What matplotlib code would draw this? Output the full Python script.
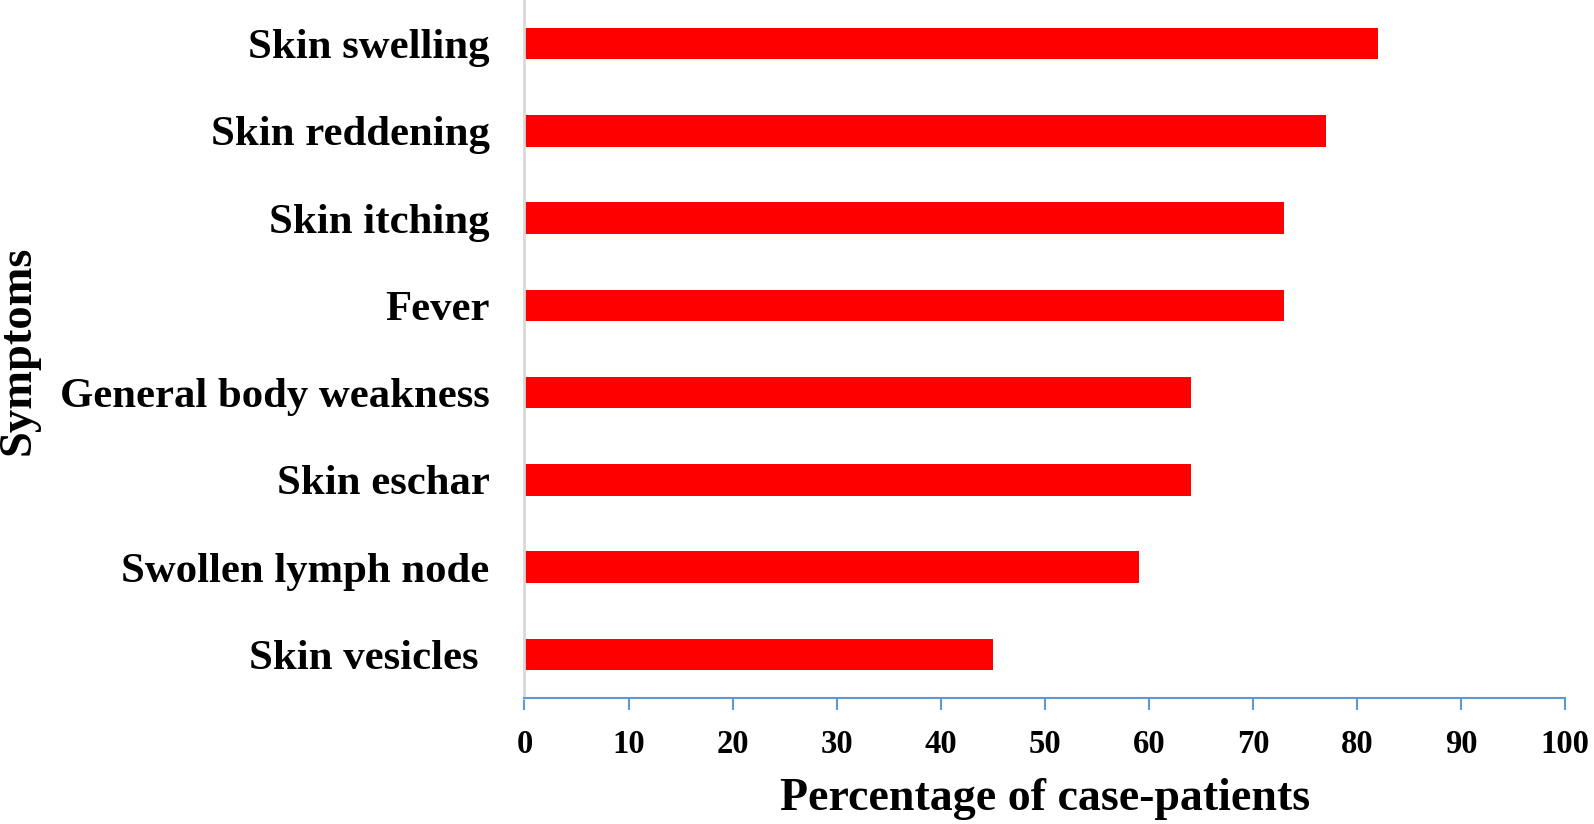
import matplotlib.pyplot as plt

# Data (top to bottom as shown)
symptoms = ["Skin swelling", "Skin reddening", "Skin itching", "Fever",
            "General body weakness", "Skin eschar", "Swollen lymph node",
            "Skin vesicles "]
percentages = [82, 77, 73, 73, 64, 64, 59, 45]
x_ticks = [0, 10, 20, 30, 40, 50, 60, 70, 80, 90, 100]

plt.rcParams['font.family'] = ['Liberation Serif', 'DejaVu Serif']
plt.rcParams['font.weight'] = 'bold'

fig = plt.figure(figsize=(15.94, 8.24), dpi=100)
ax = fig.add_axes([0.329, 0.153, 0.653, 0.847])

n = len(symptoms)
ypos = list(range(n))[::-1]
ax.barh(ypos, percentages, height=0.36, color='#ff0000', edgecolor='none')

ax.set_xlim(0, 100)
ax.set_ylim(-0.5, n - 0.5)
ax.set_xticks(x_ticks)
ax.set_xticklabels([str(t) for t in x_ticks], fontsize=23.5, fontweight='bold')
ax.set_yticks(ypos)
ax.set_yticklabels(symptoms, fontsize=30.8, fontweight='bold')

ax.tick_params(axis='y', length=0, pad=25)
ax.tick_params(axis='x', length=8.6, width=1.5, color='#5b9bd5', pad=14, direction='out')

for s in ['top', 'right']:
    ax.spines[s].set_visible(False)
ax.spines['left'].set_color('#d9d9d9')
ax.spines['left'].set_linewidth(2)
ax.spines['bottom'].set_color('#5b9bd5')
ax.spines['bottom'].set_linewidth(1.5)

ax.set_xlabel("Percentage of case-patients", fontsize=33, fontweight='bold', labelpad=13)
fig.text(0.0115, 0.575, "Symptoms", rotation=90, fontsize=33.5, fontweight='bold',
         ha='center', va='center')

fig.savefig("out.png", dpi=100)
